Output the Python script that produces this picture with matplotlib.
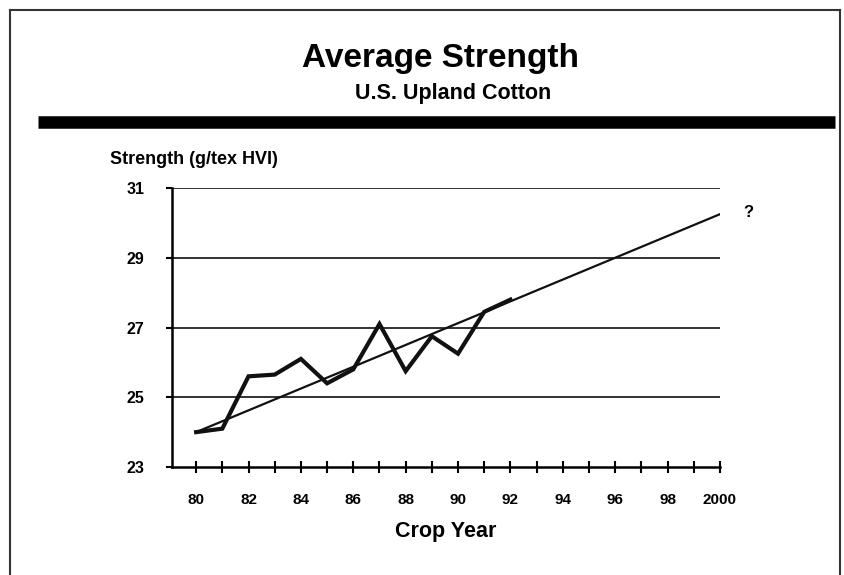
import numpy as np
import matplotlib.pyplot as plt
from matplotlib.lines import Line2D
from matplotlib.ticker import MultipleLocator

# crop years (1980-1992 actual, trend to 2000)
years = [80, 81, 82, 83, 84, 85, 86, 87, 88, 89, 90, 91, 92]
strength = [24.0, 24.1, 25.6, 25.65, 26.1, 25.4, 25.8, 27.1, 25.75, 26.75, 26.25, 27.45, 27.8]
trend_years = [80, 100]
trend_vals = [24.0, 30.25]
xtick_pos = [80, 82, 84, 86, 88, 90, 92, 94, 96, 98, 100]
xtick_labels = ['80', '82', '84', '86', '88', '90', '92', '94', '96', '98', '2000']
ytick_pos = [23, 25, 27, 29, 31]

plt.rcParams['font.family'] = ['Liberation Sans', 'DejaVu Sans']

fig = plt.figure(figsize=(8.45, 5.75), dpi=100)
ax = fig.add_axes([0.2036, 0.1878, 0.852 - 0.2036, 0.673 - 0.1878])

# horizontal grid lines
for yv in ytick_pos[1:]:
    ax.axhline(yv, color='#222222', lw=1.3, zorder=1)

ax.plot(trend_years, trend_vals, color='#111111', lw=1.6, zorder=2)
ax.plot(years, strength, color='#111111', lw=3.0, zorder=3, solid_joinstyle='miter')

ax.set_xlim(79.08, 100)
ax.set_ylim(23, 31)
ax.set_xticks(xtick_pos)
ax.set_xticklabels(xtick_labels, fontsize=11, fontweight='bold')
ax.xaxis.set_minor_locator(MultipleLocator(1))
ax.set_yticks(ytick_pos)
ax.set_yticklabels([str(v) for v in ytick_pos], fontsize=11.5, fontweight='bold')
ax.tick_params(axis='x', which='both', direction='inout', length=9, width=1.5, pad=14)
ax.tick_params(axis='y', direction='out', length=4, width=1.5, pad=16)

for s in ['top', 'right']:
    ax.spines[s].set_visible(False)
ax.spines['left'].set_linewidth(1.8)
ax.spines['bottom'].set_linewidth(1.8)

ax.text(100.9, 30.3, '?', fontsize=12, fontweight='bold', ha='left', va='center')
ax.set_xlabel('Crop Year', fontsize=15.5, fontweight='bold', labelpad=10)

fig.text(110 / 845, 1 - 160 / 575, 'Strength (g/tex HVI)', fontsize=13,
         fontweight='bold', ha='left', va='center')
fig.text(441 / 845, 1 - 59 / 575, 'Average Strength', fontsize=24, fontweight='bold',
         ha='center', va='center')
fig.text(453 / 845, 1 - 93 / 575, 'U.S. Upland Cotton', fontsize=15.5, fontweight='bold',
         ha='center', va='center')

# thick rule under the title
fig.add_artist(Line2D([38 / 845, 835 / 845], [1 - 122 / 575] * 2, color='black', lw=9,
                      solid_capstyle='butt'))
# page frame
fig.add_artist(Line2D([10 / 845, 10 / 845], [0, 1 - 10 / 575], color='#333333', lw=1.5))
fig.add_artist(Line2D([10 / 845, 840 / 845], [1 - 10 / 575] * 2, color='#333333', lw=1.5))
fig.add_artist(Line2D([840 / 845, 840 / 845], [0, 1 - 10 / 575], color='#333333', lw=1.5))

fig.savefig('out.png', dpi=100)
